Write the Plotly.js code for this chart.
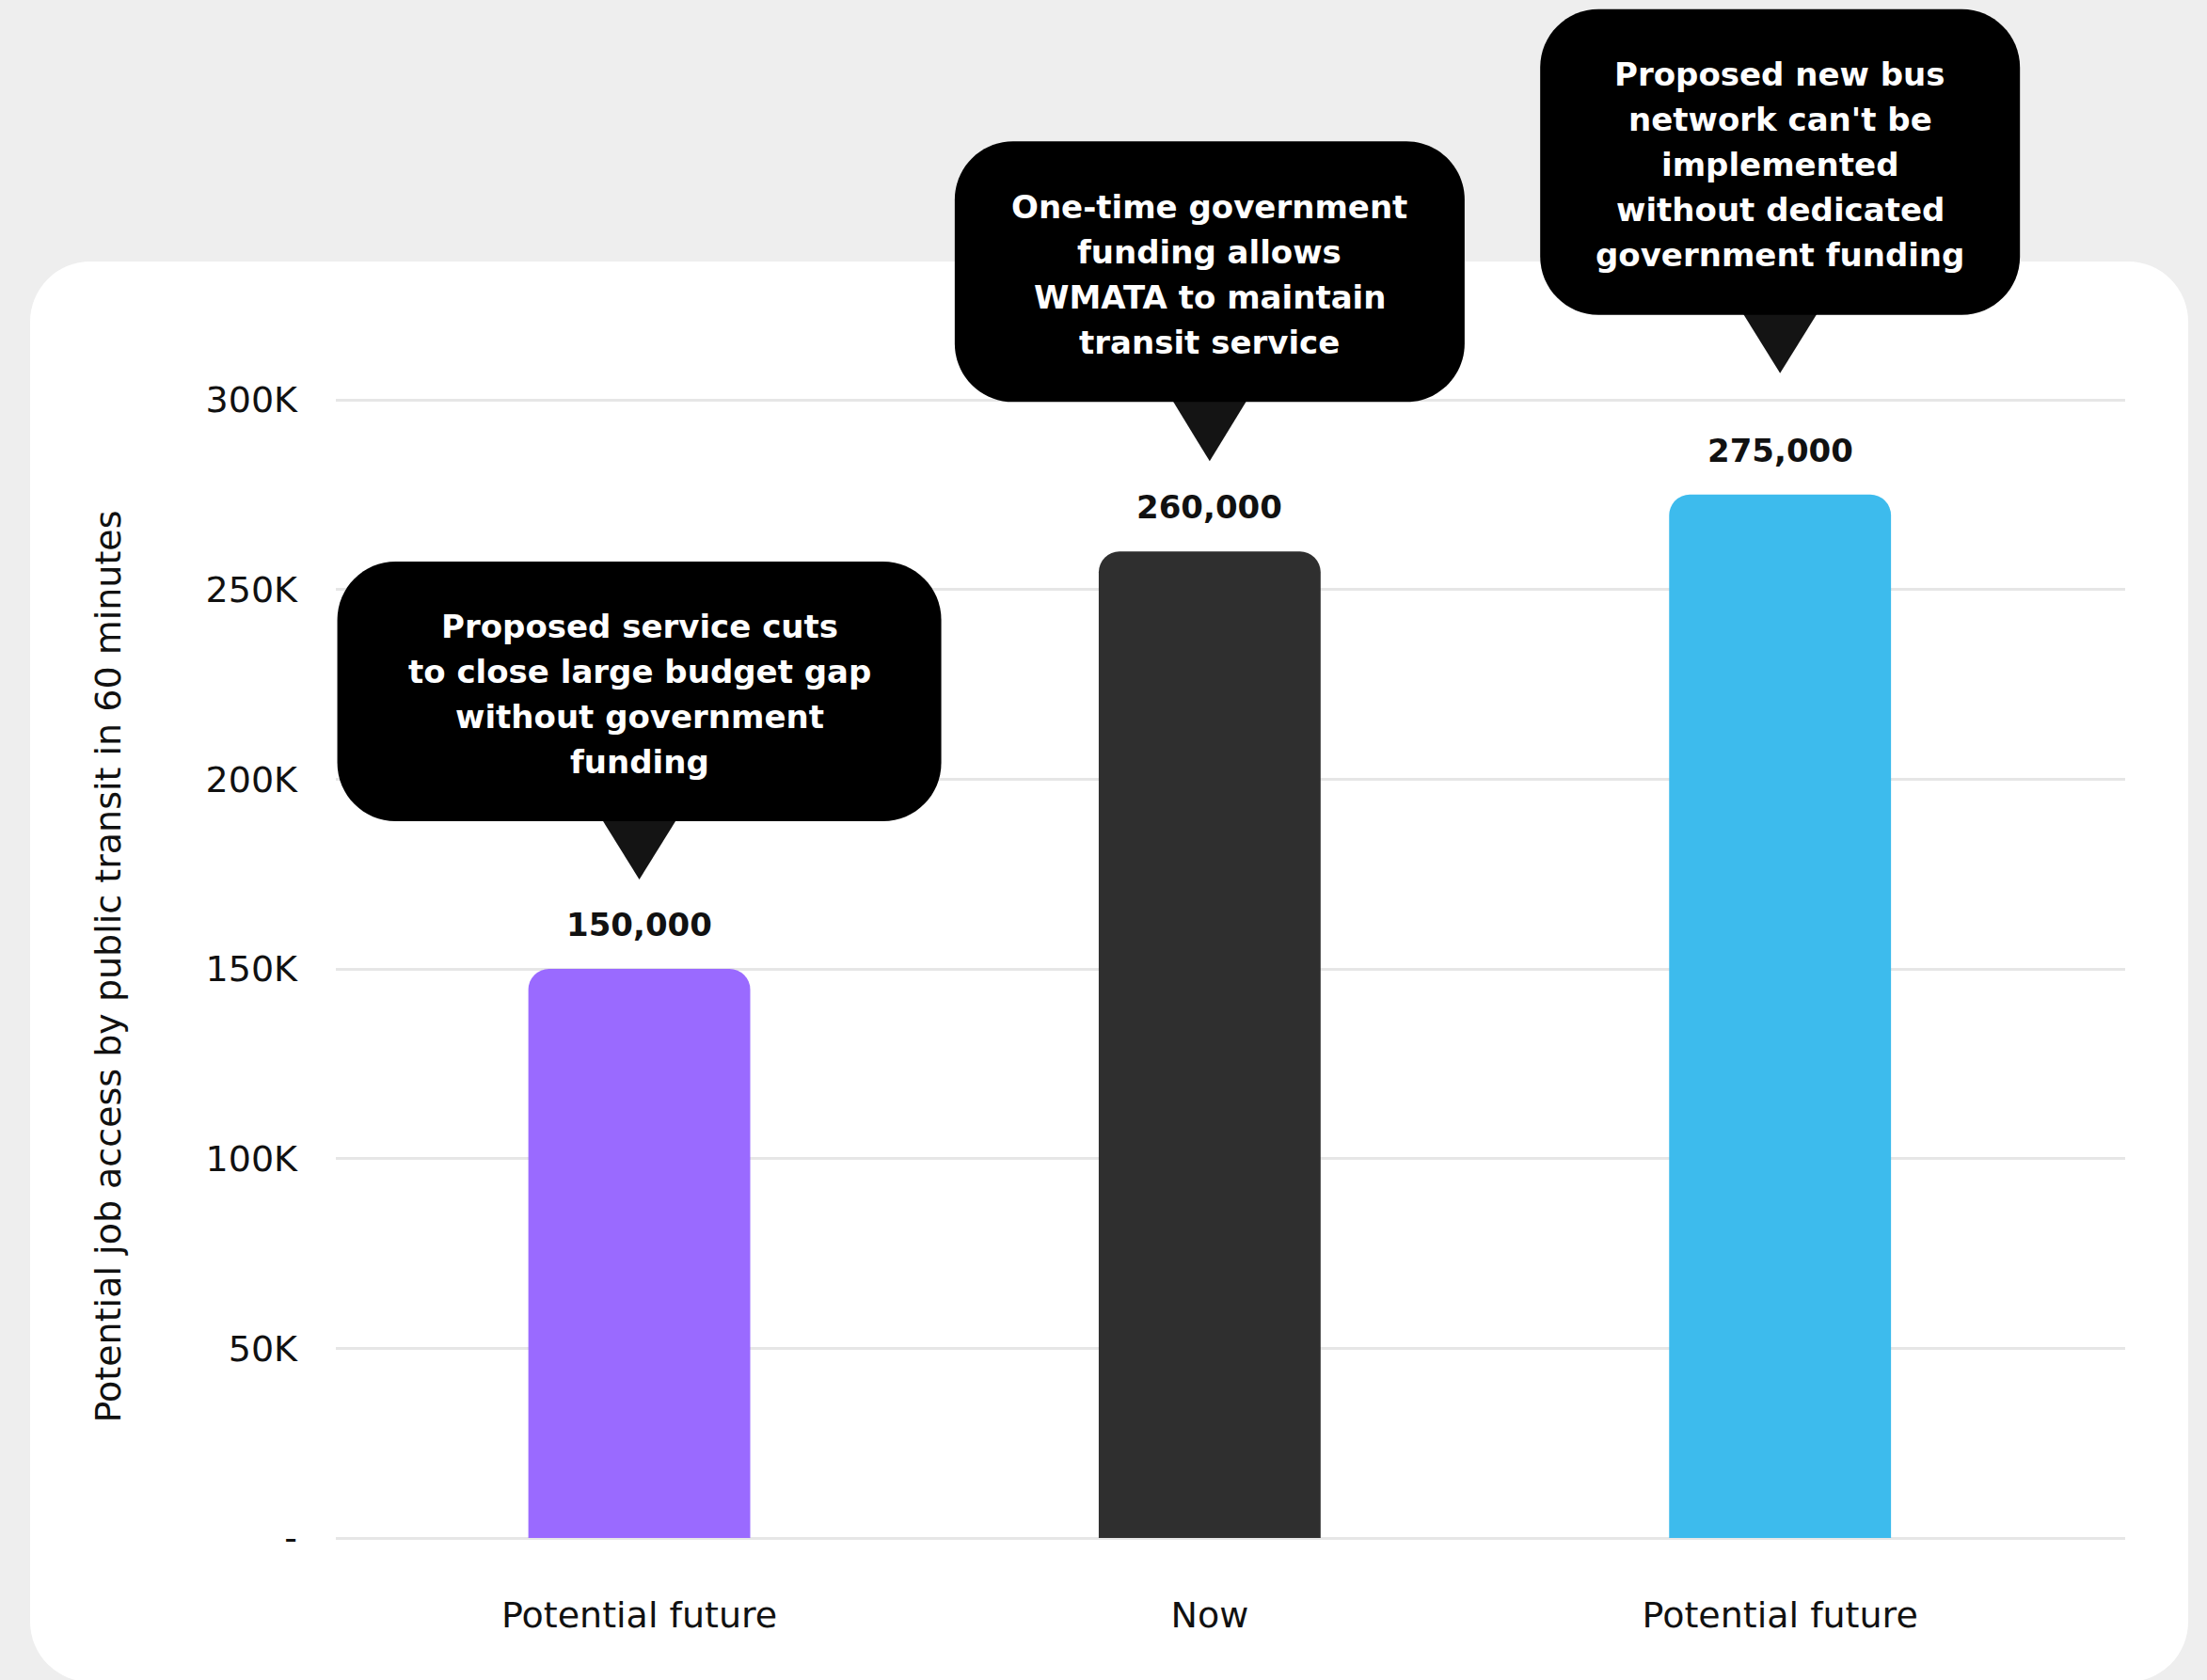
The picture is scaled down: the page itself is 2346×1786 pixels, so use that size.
<!DOCTYPE html>
<html>
<head>
<meta charset="utf-8">
<script src="https://cdn.plot.ly/plotly-3.0.1.min.js"></script>
<style>
  html, body { margin: 0; padding: 0; background: #EEEEEE; width: 2346px; height: 1786px; overflow: hidden; }
  #card { position: absolute; left: 32px; top: 278px; width: 2294px; height: 1510px; background: #FFFFFF; border-radius: 64px; }
  #chart { position: absolute; left: 0; top: 0; width: 2346px; height: 1786px; }
</style>
</head>
<body>
<div id="card"></div>
<div id="chart"></div>
<script>
// ---------------- data ----------------
const categories = ["Potential future", "Now", "Potential future"];
const jobAccess = [150000, 260000, 275000];
const yTickVals = [0, 50000, 100000, 150000, 200000, 250000, 300000];
const yTickText = ["-", "50K", "100K", "150K", "200K", "250K", "300K"];
const yAxisTitle = "Potential job access by public transit in 60 minutes";
const calloutLines = [
  ["Proposed service cuts", "to close large budget gap", "without government", "funding"],
  ["One-time government", "funding allows", "WMATA to maintain", "transit service"],
  ["Proposed new bus", "network can't be", "implemented", "without dedicated", "government funding"]
];

// ---------------- style ----------------
const barColors = ["#9A6AFF", "#2F2F2F", "#3DBBED"];
const FONT = "DejaVu Sans, sans-serif";
const Y_TOP = 301250;   // a little headroom so the 300K gridline is drawn
// callout geometry, pixels above the top of each bar
const calloutGeom = [
  { half: 321, top: 433, bottom: 157, apex: 95, lineTop: 364 },
  { half: 271, top: 436, bottom: 159, apex: 96, lineTop: 366 },
  { half: 255, top: 516, bottom: 191, apex: 129, lineTop: 447 }
];
const LINE_STEP = 48;
const BOX_RADIUS = 62;
const POINTER_HALF = 41;

const xPos = categories.map((_, i) => i);

function roundedRectPath(x0, x1, y0, y1, r) {
  const k = r * 0.5523;
  return `M ${x0 + r} ${y1} L ${x1 - r} ${y1} ` +
    `C ${x1 - r + k} ${y1} ${x1} ${y1 - r + k} ${x1} ${y1 - r} ` +
    `L ${x1} ${y0 + r} ` +
    `C ${x1} ${y0 + r - k} ${x1 - r + k} ${y0} ${x1 - r} ${y0} ` +
    `L ${x0 + r} ${y0} ` +
    `C ${x0 + r - k} ${y0} ${x0} ${y0 + r - k} ${x0} ${y0 + r} ` +
    `L ${x0} ${y1 - r} ` +
    `C ${x0} ${y1 - r + k} ${x0 + r - k} ${y1} ${x0 + r} ${y1} Z`;
}

const shapes = [];
const annotations = [];

xPos.forEach((xi, i) => {
  const g = calloutGeom[i];
  const anchorPaper = jobAccess[i] / Y_TOP;
  const base = {
    type: "path", xref: "x", yref: "paper",
    xsizemode: "pixel", ysizemode: "pixel",
    xanchor: xi, yanchor: anchorPaper,
    line: { width: 0 }, layer: "above"
  };
  shapes.push(Object.assign({}, base, {
    path: `M ${-POINTER_HALF} ${g.bottom + 4} L ${POINTER_HALF} ${g.bottom + 4} L 0 ${g.apex} Z`,
    fillcolor: "#141414"
  }));
  shapes.push(Object.assign({}, base, {
    path: roundedRectPath(-g.half, g.half, g.bottom, g.top, BOX_RADIUS),
    fillcolor: "#000000"
  }));

  calloutLines[i].forEach((line, j) => {
    annotations.push({
      xref: "x", yref: "y", x: xi, y: jobAccess[i],
      yshift: g.lineTop - j * LINE_STEP,
      text: "<b>" + line + "</b>",
      showarrow: false, xanchor: "center", yanchor: "middle",
      font: { family: FONT, size: 34, color: "#FFFFFF" }
    });
  });

  annotations.push({
    xref: "x", yref: "y", x: xi, y: jobAccess[i],
    yshift: 47,
    text: "<b>" + jobAccess[i].toLocaleString("en-US") + "</b>",
    showarrow: false, xanchor: "center", yanchor: "middle",
    font: { family: FONT, size: 34, color: "#111111" }
  });
});

const trace = {
  type: "bar",
  x: xPos,
  y: jobAccess,
  width: 0.389,
  marker: { color: barColors, cornerradius: 22, line: { width: 0 } },
  hoverinfo: "skip"
};

const layout = {
  width: 2346, height: 1786,
  margin: { l: 357, r: 87, t: 420, b: 151 },
  paper_bgcolor: "rgba(0,0,0,0)",
  plot_bgcolor: "rgba(0,0,0,0)",
  showlegend: false,
  font: { family: FONT, color: "#111111", size: 38 },
  xaxis: {
    range: [-0.532, 2.605],
    tickmode: "array", tickvals: xPos, ticktext: categories,
    showgrid: false, zeroline: false, showline: false, ticks: "",
    ticklabelstandoff: 56,
    tickfont: { family: FONT, size: 38, color: "#111111" },
    fixedrange: true
  },
  yaxis: {
    range: [0, Y_TOP],
    tickmode: "array", tickvals: yTickVals, ticktext: yTickText,
    showgrid: true, gridcolor: "#E6E6E6", gridwidth: 3,
    zeroline: true, zerolinecolor: "#E6E6E6", zerolinewidth: 3,
    showline: false, ticks: "",
    ticklabelstandoff: 40,
    tickfont: { family: FONT, size: 38, color: "#111111" },
    title: { text: yAxisTitle, font: { family: FONT, size: 38, color: "#111111" }, standoff: 78 },
    fixedrange: true
  },
  shapes: shapes,
  annotations: annotations
};

Plotly.newPlot("chart", [trace], layout, { displayModeBar: false, staticPlot: true });
</script>
</body>
</html>
